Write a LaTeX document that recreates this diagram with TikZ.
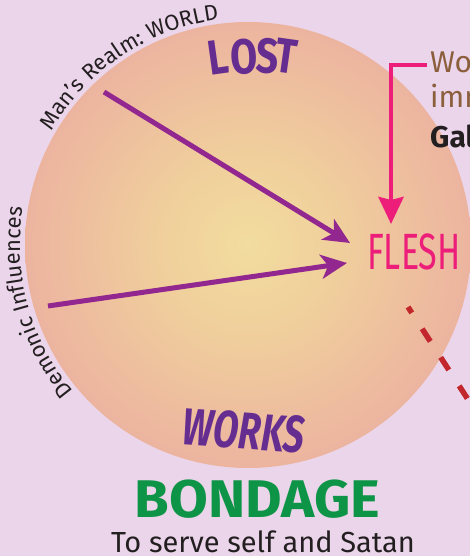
\documentclass[tikz,border=0pt]{standalone}
\usepackage{fontspec}
\setmainfont{Fira Sans}
\usetikzlibrary{arrows.meta,calc,decorations.text}
\definecolor{bg}{HTML}{EBD5EA}
\definecolor{purpleA}{HTML}{92278F}
\definecolor{lostc}{HTML}{662D91}
\definecolor{fleshc}{HTML}{ED1E79}
\definecolor{dashc}{HTML}{C1272D}
\definecolor{greenc}{HTML}{0E9447}
\definecolor{brownc}{HTML}{8B5E3C}
\definecolor{txt}{HTML}{231F20}
\definecolor{cin}{HTML}{F2DC9E}
\definecolor{cinb}{HTML}{F0CF9C}
\definecolor{cmid}{HTML}{EDB99F}
\definecolor{cmidb}{HTML}{EAA29F}
\definecolor{cout}{HTML}{E68F9E}
\pgfdeclareradialshading{glow}{\pgfpoint{0bp}{0bp}}{color(0bp)=(cin);color(10bp)=(cinb);color(22bp)=(cmid);color(36bp)=(cmidb);color(50bp)=(cout)}
\begin{document}
\begin{tikzpicture}[x=1pt,y=1pt,
  arr/.style={line width=5pt, draw=purpleA, -{Stealth[length=26pt,width=24pt,inset=7pt]}},
  pinkline/.style={line width=4.5pt, draw=fleshc, line join=miter, -{Stealth[length=27pt,width=25pt,inset=3pt]}},
  dashline/.style={line width=5.5pt, draw=dashc, dash pattern=on 15pt off 19pt, dash phase=8pt},
  bigletter/.style={inner sep=0pt, text=lostc, font=\fontsize{49}{49}\selectfont\bfseries},
  sidetext/.style={inner sep=0pt, anchor=base west, font=\fontsize{30}{30}\selectfont},
  arctext/.style={decorate, decoration={text along path, text color=txt}}
]
\useasboundingbox (0,0) rectangle (470,556);
\clip (0,0) rectangle (470,556);
\fill[bg] (0,0) rectangle (470,556);
\coordinate (C) at (248,311);
\shade[shading=glow] (C) circle[radius=223];

% arc labels
\path[arctext, decoration={text={|\fontsize{22}{22}\selectfont|Man’s Realm: WORLD}}]
  ($(C)+(150:227)$) arc[start angle=150, end angle=80, radius=227];
\path[arctext, decoration={text={|\fontsize{22}{22}\selectfont|Demonic Influences}}]
  ($(C)+(220:228)$) arc[start angle=220, end angle=150, radius=228];

% LOST
\node[bigletter, rotate=8] (lL) at (218,499) {\scalebox{0.8}[1]{L}};
\node[bigletter, rotate=3] (lO) at (244,499) {\scalebox{0.8}[1]{O}};
\node[bigletter, rotate=-3] (lS) at (268,500) {\scalebox{0.8}[1]{S}};
\node[bigletter, rotate=-8] (lT) at (286,500) {\scalebox{0.8}[1]{T}};

% WORKS
\node[inner sep=0pt, text=lostc, rotate=-4, font=\fontsize{52}{52}\selectfont\bfseries\itshape] (works) at (244,125) {\scalebox{0.71}[1]{WORKS}};

% FLESH
\node[inner sep=0pt, anchor=base west, text=fleshc, font=\fontsize{51}{51}\selectfont] (flesh) at (367,286) {\scalebox{0.67}[1]{FLESH}};

% arrows
\coordinate (a1s) at (104,464);
\coordinate (a1e) at (350,313);
\coordinate (a2s) at (48,250);
\coordinate (a2e) at (347,293);
\draw[arr] (a1s) -- (a1e);
\draw[arr] (a2s) -- (a2e);

% pink bracket
\coordinate (p1) at (427,491);
\coordinate (p2) at (391,491);
\coordinate (p3) at (391,332);
\draw[pinkline] (p1) -- (p2) -- (p3);

% side text
\node[sidetext, text=brownc] (s1) at (430,483) {Wo};
\node[sidetext, text=brownc] (s2) at (430,448) {imm};
\node[sidetext, text=txt, font=\fontsize{30}{30}\selectfont\bfseries] (s3) at (430,408) {Gal};

% dashed line
\coordinate (d1) at (408,249);
\coordinate (d2) at (480,138);
\draw[dashline] (d1) -- (d2);

% bottom text
\node[inner sep=0pt, anchor=base, text=greenc, font=\fontsize{53}{53}\selectfont\bfseries] (bondage) at (257.5,38) {\scalebox{1.06}[1]{BONDAGE}};
\node[inner sep=0pt, anchor=base, text=txt, font=\fontsize{29}{29}\selectfont] (serve) at (263,4) {To serve self and Satan};
\end{tikzpicture}
\end{document}
